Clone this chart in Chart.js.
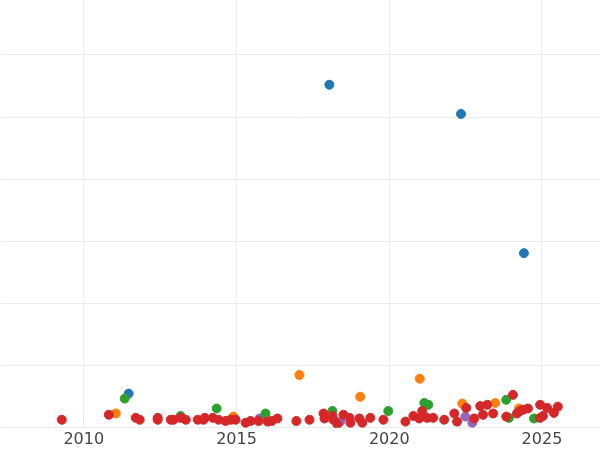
<!DOCTYPE html>
<html>
<head>
<meta charset="utf-8">
<script src="https://cdn.jsdelivr.net/npm/chart.js@4"></script>
<style>
body { margin: 0; background: #fff; overflow: hidden; }
#wrap { position: absolute; left: -5px; top: -7px; width: 611px; height: 458px; }
</style>
</head>
<body>
<div id="wrap"><canvas id="chart"></canvas></div>
<script>
const blueX = [2018.04, 2022.35, 2024.41, 2011.47];
const blueY = [5.52, 5.05, 2.81, 0.55];
const orangeX = [2017.06, 2019.05, 2021.0, 2011.05, 2014.9, 2022.39, 2023.47, 2024.25];
const orangeY = [0.85, 0.50, 0.79, 0.23, 0.18, 0.39, 0.40, 0.31];
const greenX = [2011.34, 2014.35, 2015.95, 2013.17, 2018.14, 2019.97, 2021.15, 2021.28, 2023.83, 2023.92, 2024.74];
const greenY = [0.47, 0.31, 0.23, 0.19, 0.27, 0.27, 0.40, 0.37, 0.45, 0.16, 0.15];
const purpleX = [2015.75, 2018.4, 2022.49, 2022.72];
const purpleY = [0.15, 0.10, 0.18, 0.08];
const redX = [2009.28, 2010.82, 2011.7, 2011.83, 2012.42, 2012.42, 2012.85, 2012.94, 2013.17, 2013.34,
  2013.73, 2013.92, 2013.96, 2014.22, 2014.41, 2014.64, 2014.81, 2014.97, 2015.3, 2015.46,
  2015.72, 2016.02, 2016.15, 2016.34, 2016.96, 2017.39, 2017.85, 2017.88, 2018.14, 2018.17,
  2018.3, 2018.5, 2018.7, 2018.73, 2019.02, 2019.12, 2019.38, 2019.81, 2020.53, 2020.79,
  2020.98, 2021.08, 2021.24, 2021.44, 2021.8, 2022.13, 2022.22, 2022.52, 2022.78, 2022.98,
  2023.07, 2023.21, 2023.4, 2023.83, 2024.05, 2024.18, 2024.28, 2024.38, 2024.54, 2024.94,
  2024.94, 2025.03, 2025.17, 2025.39, 2025.52];
const redY = [0.13, 0.21, 0.16, 0.13, 0.16, 0.13, 0.13, 0.13, 0.16, 0.13,
  0.13, 0.13, 0.16, 0.16, 0.13, 0.11, 0.13, 0.13, 0.08, 0.11,
  0.11, 0.10, 0.11, 0.15, 0.11, 0.13, 0.23, 0.15, 0.19, 0.13,
  0.06, 0.21, 0.16, 0.08, 0.15, 0.08, 0.16, 0.13, 0.10, 0.19,
  0.15, 0.27, 0.16, 0.16, 0.13, 0.23, 0.10, 0.32, 0.15, 0.35,
  0.21, 0.37, 0.23, 0.18, 0.53, 0.23, 0.27, 0.29, 0.31, 0.37,
  0.16, 0.19, 0.32, 0.24, 0.34];

function pts(xs, ys) {
  return xs.map((x, i) => ({ x: x, y: ys[i] }));
}
function ds(xs, ys, color) {
  return { data: pts(xs, ys), backgroundColor: color, borderColor: color, pointRadius: 4.5, pointHoverRadius: 5 };
}

new Chart(document.getElementById('chart'), {
  type: 'scatter',
  data: {
    datasets: [
      ds(redX, redY, '#d62728'),
      ds(orangeX, orangeY, '#ff7f0e'),
      ds(greenX, greenY, '#2ca02c'),
      ds(purpleX, purpleY, '#9467bd'),
      ds(blueX, blueY, '#1f77b4'),
    ],
  },
  options: {
    responsive: true,
    maintainAspectRatio: false,
    animation: false,
    plugins: { legend: { display: false }, tooltip: { enabled: false } },
    scales: {
      x: {
        type: 'linear',
        min: 2007.29,
        max: 2026.9,
        ticks: { stepSize: 5, color: '#444', padding: 2, font: { family: 'DejaVu Sans', size: 16 },
          callback: v => (v % 5 === 0 ? String(v) : '') },
        afterBuildTicks: axis => { axis.ticks = [2010, 2015, 2020, 2025].map(v => ({ value: v })); },
        grid: { color: '#ebebeb', drawTicks: false },
        border: { display: false },
      },
      y: {
        min: 0,
        max: 6.9,
        ticks: { display: false, stepSize: 1 },
        grid: { color: '#ebebeb', drawTicks: false },
        border: { display: false },
      },
    },
  },
});
</script>
</body>
</html>
